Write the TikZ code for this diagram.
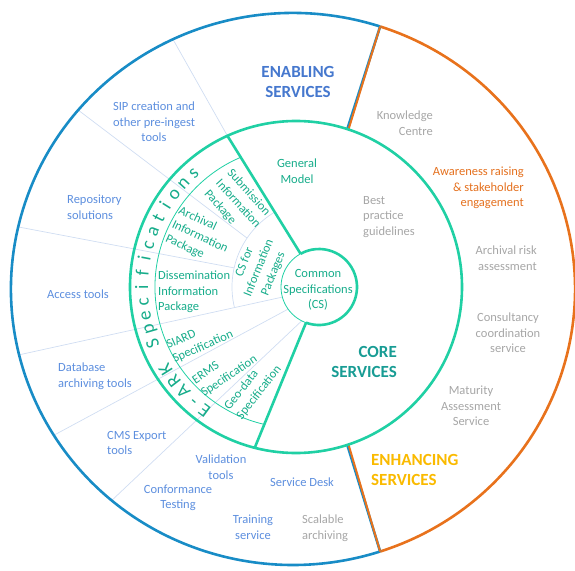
\documentclass[tikz,border=0pt]{standalone}
\usepackage{fontspec}
\setmainfont{Carlito}
\usetikzlibrary{positioning}
\definecolor{ringblue}{RGB}{24,140,198}
\definecolor{ringorange}{RGB}{232,114,28}
\definecolor{ringteal}{RGB}{32,208,164}
\definecolor{tealtext}{RGB}{22,172,138}
\definecolor{coretext}{RGB}{24,156,148}
\definecolor{enabtext}{RGB}{70,120,206}
\definecolor{itemblue}{RGB}{92,142,222}
\definecolor{itemgray}{RGB}{166,166,166}
\definecolor{awareorange}{RGB}{228,112,30}
\definecolor{enhgold}{RGB}{250,186,0}
\definecolor{divline}{RGB}{208,221,242}

\begin{document}
\begin{tikzpicture}[x=1pt, y=1pt,
            lbl/.style={font=\fontsize{12.5}{15.5}\selectfont, inner sep=0pt, align=center},
            head/.style={font=\fontsize{17}{20}\selectfont\bfseries, inner sep=0pt},
            enab/.style={lbl, text=itemblue},
            enh/.style={lbl, text=itemgray},
            spec/.style={lbl, text=tealtext},
            eark/.style={font=\fontsize{19}{19}\selectfont, text=tealtext, inner sep=0pt, anchor=base},
            divider/.style={divline, line width=0.7pt},
            thick ring/.style={ringteal, line width=2.6pt},
            thin ring/.style={ringteal, line width=0.8pt}]
            \useasboundingbox (-296,-283) rectangle (279,287);
            \coordinate (o) at (0,0);
            \coordinate (c) at (23,0);
            \coordinate (oc) at (-3,-2);

            \draw[divider] (114.4:166) -- ([shift={(oc)}]115.2:282 and 276);
            \foreach \a/\r/\b in {145.8/87/139.6, 167.3/87/167, 195.4/38/193.8, 215.6/38/212, 243/38/230}
              \draw[divider] ([shift={(c)}]\a:\r) -- ([shift={(oc)}]\b:282 and 276);
            \draw[divider] ([shift={(c)}]120.6:87) arc[start angle=120.6, end angle=193.5, radius=87];

            \draw[ringblue, line width=2.6pt] ([shift={(oc)}]72:282 and 276) arc[start angle=72, end angle=288, x radius=282, y radius=276];
            \draw[ringorange, line width=2.6pt] ([shift={(oc)}]-72:282 and 276) arc[start angle=-72, end angle=72, x radius=282, y radius=276];
            \draw[ringblue, line width=2.6pt] (72:166) -- ([shift={(oc)}]72:282 and 276);
            \draw[ringorange, line width=2pt] ([xshift=1.3pt]72:166) -- ([xshift=1.3pt, shift={(oc)}]72:282 and 276);
            \draw[ringblue, line width=2.6pt] (-72:166) -- ([shift={(oc)}]-72:282 and 276);
            \draw[ringorange, line width=2pt] ([xshift=1.3pt]-72:166) -- ([xshift=1.3pt, shift={(oc)}]-72:282 and 276);

            \draw[thick ring] (o) circle[radius=166];
            \draw[thin ring] (113:141) arc[start angle=113, end angle=257, radius=141];
            \draw[thin ring] (c) circle[radius=38];
            \draw[thick ring] ([shift={(c)}]-110:38) arc[start angle=-110, end angle=119, radius=38];
            \draw[thick ring] ([shift={(c)}]119:38) -- (114.4:166);
            \draw[thick ring] ([shift={(c)}]250:38) -- (255.6:166);

            \node[head, text=enabtext, align=center] (enabling) at (2,205) {ENABLING\\SERVICES};
            \node[head, text=coretext, align=right, anchor=east] (core) at (101,-75) {CORE\\SERVICES};
            \node[head, text=enhgold, align=left, anchor=west] (enhancing) at (75,-183) {ENHANCING\\SERVICES};

            \node[spec] (cs) at (22,-3) {Common\\Specifications\\(CS)};
            \node[spec] (general) at (1,116) {General\\Model};
            \node[spec, rotate=-48, align=left] (sip) at (-58,83) {Submission\\Information\\Package};
            \node[spec, rotate=-25, align=left] (aip) at (-96,50) {Archival\\Information\\Package};
            \node[spec, align=left, anchor=west] (dip) at (-138,-5) {Dissemination\\Information\\Package};
            \node[spec, rotate=68] (csip) at (-37,19) {CS for\\Information\\Packages};
            \node[spec, rotate=24, align=left] (siard) at (-96,-53) {SIARD\\Specification};
            \node[spec, rotate=34, align=left] (erms) at (-71,-83) {ERMS\\Specification};
            \node[spec, rotate=52, align=left] (geo) at (-43,-101) {Geo-data\\Specification};
            \foreach \i/\ch in {0/E,1/-,2/A,3/R,4/K,6/S,7/p,8/e,9/c,10/i,11/f,12/i,13/c,14/a,15/t,16/i,17/o,18/n,19/s}
              \node[eark, rotate={143.6-5.35*\i}] (e\i) at ({233.6-5.35*\i}:148) {\ch};

            \node[enab] (sipcreate) at (-142,165) {SIP creation and\\other pre-ingest\\tools};
            \node[enab, align=left, anchor=west] (repo) at (-229,80) {Repository\\solutions};
            \node[enab] (access) at (-218,-7) {Access tools};
            \node[enab, align=left, anchor=west] (dbase) at (-238,-89) {Database\\archiving tools};
            \node[enab, align=left, anchor=west] (cms) at (-189,-156) {CMS Export\\tools};
            \node[enab] (conform) at (-118,-211) {Conformance\\Testing};
            \node[enab] (valid) at (-75,-180) {Validation\\tools};
            \node[enab] (train) at (-43,-240) {Training\\service};
            \node[enab] (desk) at (6,-195) {Service Desk};
            \node[enh, align=left, anchor=west] (scalable) at (6,-241) {Scalable\\archiving};

            \node[enh, align=left, anchor=west] (best) at (67,70) {Best\\practice\\guidelines};
            \node[enh, align=right, anchor=east] (knowledge) at (137,164) {Knowledge\\Centre};
            \node[lbl, text=awareorange, align=right, anchor=east] (aware) at (228,99) {Awareness raising\\\& stakeholder\\engagement};
            \node[enh, align=right, anchor=east] (risk) at (241,29) {Archival risk\\assessment};
            \node[enh] (consult) at (212,-46) {Consultancy\\coordination\\service};
            \node[enh] (maturity) at (175,-119) {Maturity\\Assessment\\Service};
          \end{tikzpicture}
\end{document}
